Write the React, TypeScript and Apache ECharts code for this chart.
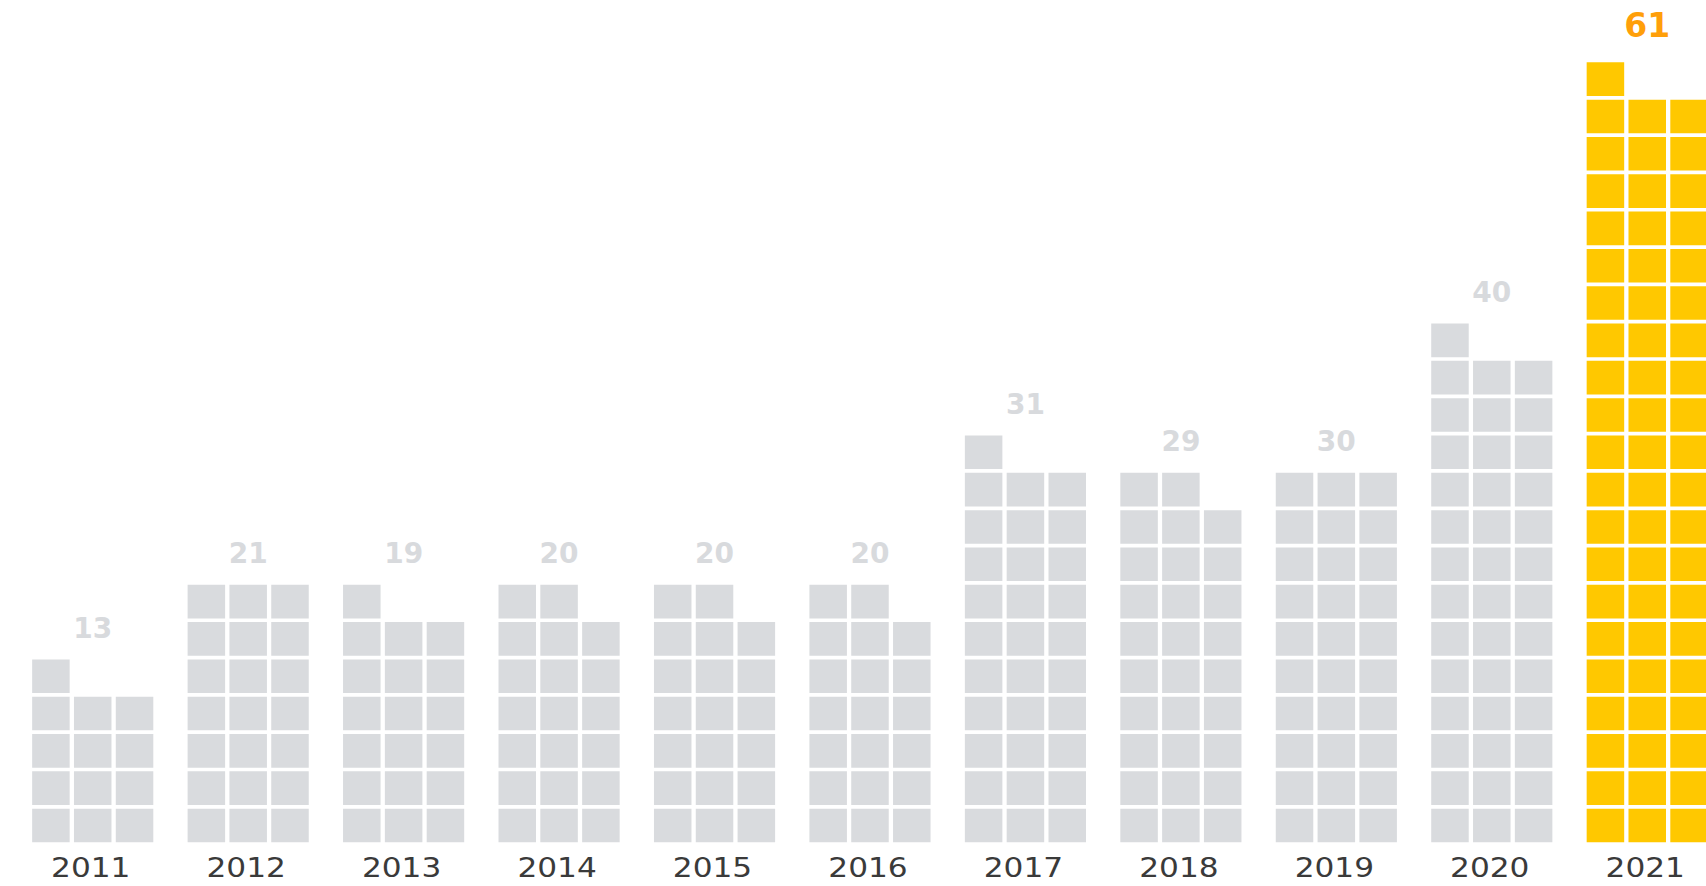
import React, { useEffect, useRef } from "react";
import * as echarts from "echarts";

const years = ["2011", "2012", "2013", "2014", "2015", "2016", "2017", "2018", "2019", "2020", "2021"];
const values = [13, 21, 19, 20, 20, 20, 31, 29, 30, 40, 61];
const highlightYear = "2021";
const perRow = 3;
const rowMax = 22;

const GRAY = "#d9dbde";
const GRAY_LABEL = "#d8dadd";
const YELLOW = "#ffc800";
const ORANGE = "#ff9f0a";
const YEAR_COLOR = "#3a3a3a";

export default function App() {
  const ref = useRef<HTMLDivElement>(null);
  useEffect(() => {
    const chart = echarts.init(ref.current as HTMLDivElement, null, { renderer: "svg" });
    const data = years.map((y, i) => [i, values[i]]);
    chart.setOption({
      animation: false,
      grid: { left: 15, right: 0, top: 21.3, bottom: 43.7, containLabel: false },
      xAxis: { type: "value", min: -0.5, max: 10.378, show: false },
      yAxis: { type: "value", min: 0, max: rowMax, show: false },
      series: [
        {
          type: "custom",
          data,
          clip: false,
          encode: { x: 0, y: 1 },
          renderItem: (params: any, api: any) => {
            const idx = api.value(0);
            const v = api.value(1);
            const hl = years[idx] === highlightYear;
            const center = api.coord([idx, 0]);
            const band = api.size([1, 0])[0];
            const rowH = api.size([0, 1])[1];
            const pitchX = band * 0.269;
            const gap = 4.3;
            const w = pitchX - gap;
            const h = rowH - 3.7;
            const groupW = pitchX * perRow - gap;
            const children: any[] = [];
            for (let k = 0; k < v; k++) {
              const r = Math.floor(k / perRow);
              const c = k % perRow;
              const bottom = api.coord([idx, r])[1];
              const left = center[0] - groupW / 2 + c * pitchX;
              children.push({
                type: "rect",
                shape: { x: left, y: bottom - h, width: w, height: h },
                style: { fill: hl ? YELLOW : GRAY },
              });
            }
            const rows = Math.ceil(v / perRow);
            const topY = api.coord([idx, rows - 1])[1] - h;
            children.push({
              type: "text",
              x: center[0],
              y: topY - (hl ? 37 : 31),
              style: {
                text: String(v),
                fill: hl ? ORANGE : GRAY_LABEL,
                fontFamily: "DejaVu Sans",
                fontWeight: "bold",
                fontSize: hl ? 33 : 28,
                align: "center",
                verticalAlign: "middle",
              },
            });
            children.push({
              type: "text",
              x: center[0] - 2,
              y: center[1] + 26,
              scaleX: 1.2,
              style: {
                text: years[idx],
                fill: YEAR_COLOR,
                fontFamily: "DejaVu Sans",
                fontSize: 26,
                align: "center",
                verticalAlign: "middle",
              },
            });
            return { type: "group", children };
          },
        },
      ],
    });
    return () => chart.dispose();
  }, []);
  return (
    <div
      ref={ref}
      style={{ position: "fixed", left: 0, top: 0, width: 1706, height: 886, background: "#ffffff" }}
    />
  );
}
